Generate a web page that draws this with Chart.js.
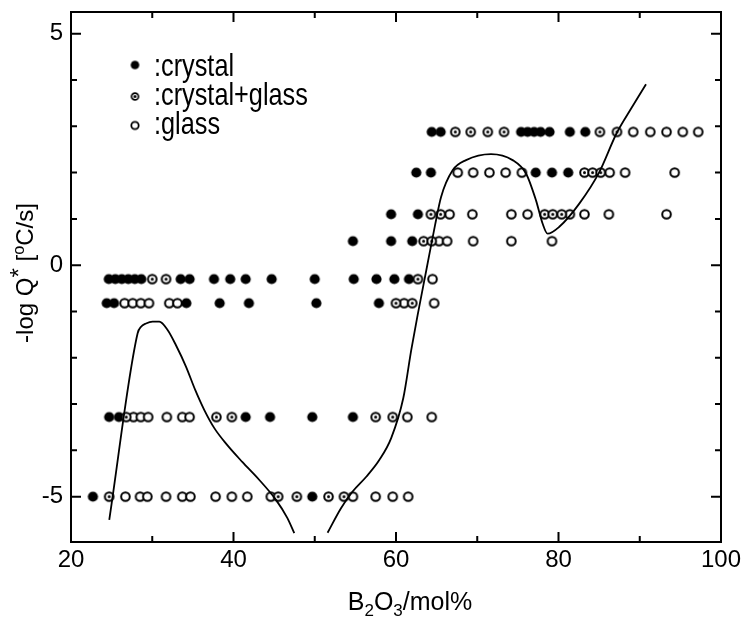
<!DOCTYPE html>
<html>
<head>
<meta charset="utf-8">
<title>-log Q* vs B2O3 mol%</title>
<script src="https://cdn.jsdelivr.net/npm/chart.js@4.4.1/dist/chart.umd.min.js"></script>
<style>
     html, body { margin: 0; padding: 0; background: #fff; }
     #wrap { width: 747px; height: 618px; }
</style>
</head>
<body>
<div id="wrap"><canvas id="chart" width="747" height="618"></canvas></div>
<script>
// axis ticks
const xTicks = [20, 40, 60, 80, 100];
const xMinorTicks = [30, 50, 70, 90];
const yTicks = [-5, 0, 5];
const yMinorTicks = [-4, -3, -2, -1, 1, 2, 3, 4];

const seriesLabels = [":crystal", ":crystal+glass", ":glass"];

// cooling-rate levels (-log Q*), one per row of points
const rowLevels = [2.88, 2.0, 1.1, 0.52, -0.3, -0.82, -3.28, -5.0];

// B2O3 mol% of each sample, listed row by row (same order as rowLevels)
const crystalRows = [
     [64.4, 65.5, 75.4, 76.2, 77.0, 77.8, 78.9, 81.4, 83.3],
     [62.5, 64.3, 77.2, 79.2, 81.2],
     [59.4, 62.7],
     [54.7, 59.4, 62.0],
     [24.65, 25.45, 26.25, 27.05, 27.85, 28.65, 33.5, 34.6, 37.6, 39.6, 41.5, 44.7, 50.0, 54.8, 57.6, 59.8, 61.6],
     [24.4, 25.3, 34.2, 38.3, 41.9, 50.2, 57.9],
     [24.7, 25.9, 41.5, 44.5, 49.7, 54.7],
     [22.7, 49.7],
];
const mixedRows = [
     [67.3, 69.2, 71.3, 73.3, 85.1, 87.2],
     [83.2, 84.2, 85.2],
     [64.3, 65.5, 78.3, 79.3, 80.4],
     [63.4, 64.4],
     [30.0, 31.7, 62.7],
     [60.0, 62.0],
     [26.8, 37.9, 39.8, 57.5, 59.6],
     [24.7, 45.5, 47.8, 51.7, 53.6],
];
const glassRows = [
     [89.2, 91.3, 93.3, 95.3, 97.2],
     [67.6, 69.5, 71.5, 73.5, 75.5, 86.3, 88.2, 94.3],
     [66.6, 69.4, 74.2, 76.2, 81.4, 83.2, 86.2, 93.3],
     [65.3, 66.3, 69.5, 74.2, 79.2],
     [64.5],
     [26.6, 27.6, 28.6, 29.6, 32.1, 33.1, 61.0, 64.7],
     [27.7, 28.6, 29.5, 31.8, 33.7, 34.6, 61.4, 64.4],
     [26.7, 28.5, 29.4, 31.7, 33.7, 34.7, 37.8, 39.8, 41.7, 44.6, 54.7, 57.5, 59.6, 61.5],
];

// boundary curves
const leftCurveX = [24.71, 28.2, 28.62, 29.23, 30.04, 30.87, 31.89, 32.92, 34.15, 35.3, 36.41, 37.64, 39.11, 41.08, 43.18, 45.23, 46.62, 47.48];
const leftCurveY = [-5.5, -1.47, -1.33, -1.26, -1.22, -1.22, -1.4, -1.73, -2.19, -2.7, -3.13, -3.52, -3.86, -4.25, -4.64, -5.07, -5.46, -5.79];
const rightCurveX = [51.58, 53.23, 54.66, 56.34, 57.94, 59.42, 60.9, 61.88, 62.66, 63.73, 64.8, 65.54, 66.97, 68.62, 71.69, 74.35, 76.0, 77.23, 78.04, 78.66, 80.1, 82.56, 85.02, 87.15, 88.96, 90.77];
const rightCurveY = [-5.78, -5.25, -4.89, -4.57, -4.21, -3.73, -2.87, -1.83, -1.08, -0.11, 0.86, 1.47, 2.05, 2.27, 2.4, 2.27, 1.98, 1.4, 0.9, 0.68, 0.83, 1.33, 2.01, 2.85, 3.39, 3.91];

const FONT = "'Liberation Sans', Arial, Helvetica, sans-serif";

const toPoints = (rows) => {
     const pts = [];
     rows.forEach((xs, i) => xs.forEach((x) => pts.push({ x: x, y: rowLevels[i] })));
     return pts;
};
const toLine = (xs, ys) => xs.map((x, i) => ({ x: x, y: ys[i] }));

// marker images: filled, ring with dot, open ring
const makeMarker = (kind, r, lw) => {
     const c = document.createElement("canvas");
     const s = Math.ceil(r * 2 + 4);
     c.width = s;
     c.height = s;
     const g = c.getContext("2d");
     g.beginPath();
     if (kind === "crystal") {
          g.arc(s / 2, s / 2, r, 0, Math.PI * 2);
          g.fillStyle = "#000";
          g.fill();
          return c;
     }
     g.arc(s / 2, s / 2, r - lw / 2, 0, Math.PI * 2);
     g.fillStyle = "#fff";
     g.fill();
     g.lineWidth = lw;
     g.strokeStyle = "#000";
     g.stroke();
     if (kind === "mixed") {
          g.beginPath();
          g.arc(s / 2, s / 2, 1.5, 0, Math.PI * 2);
          g.fillStyle = "#000";
          g.fill();
     }
     return c;
};
const markers = {
     crystal: makeMarker("crystal", 5.1, 0),
     mixed: makeMarker("mixed", 5.3, 2),
     glass: makeMarker("glass", 5.3, 2),
};
const legendMarkers = [makeMarker("crystal", 4.3, 0), makeMarker("mixed", 4.3, 1.7), makeMarker("glass", 4.6, 1.8)];

const framePlugin = {
     id: "frame",
     afterDraw(chart) {
          const { ctx, chartArea: a, scales } = chart;
          const sx = scales.x;
          const sy = scales.y;
          ctx.save();
          ctx.strokeStyle = "#000";
          ctx.lineWidth = 2;
          ctx.strokeRect(a.left, a.top, a.right - a.left, a.bottom - a.top);
          ctx.beginPath();
          const xTick = (v, len) => {
               const p = sx.getPixelForValue(v);
               ctx.moveTo(p, a.bottom);
               ctx.lineTo(p, a.bottom - len);
               ctx.moveTo(p, a.top);
               ctx.lineTo(p, a.top + len);
          };
          const yTick = (v, len) => {
               const p = sy.getPixelForValue(v);
               ctx.moveTo(a.left, p);
               ctx.lineTo(a.left + len, p);
               ctx.moveTo(a.right, p);
               ctx.lineTo(a.right - len, p);
          };
          xTicks.forEach((v) => xTick(v, 10));
          xMinorTicks.forEach((v) => xTick(v, 6));
          yTicks.forEach((v) => yTick(v, 10));
          yMinorTicks.forEach((v) => yTick(v, 6));
          ctx.stroke();
          ctx.restore();
     },
};

// draws a run of text pieces, some raised or lowered, centred on 0
const drawPieces = (ctx, pieces, size) => {
     let total = 0;
     pieces.forEach((p) => {
          ctx.font = (p.small ? size * 0.68 : size) + "px " + FONT;
          p.w = ctx.measureText(p.t).width;
          total += p.w;
     });
     let x = -total / 2;
     pieces.forEach((p) => {
          ctx.font = (p.small ? size * 0.68 : size) + "px " + FONT;
          ctx.fillText(p.t, x, p.dy || 0);
          x += p.w;
     });
};

const titlePlugin = {
     id: "titles",
     afterDraw(chart) {
          const { ctx } = chart;
          ctx.save();
          ctx.fillStyle = "#000";
          ctx.textAlign = "left";
          ctx.textBaseline = "alphabetic";

          ctx.save();
          ctx.translate(410, 610);
          drawPieces(ctx, [
               { t: "B" },
               { t: "2", small: true, dy: 6 },
               { t: "O" },
               { t: "3", small: true, dy: 6 },
               { t: "/mol%" },
          ], 25);
          ctx.restore();

          ctx.save();
          ctx.translate(33, 273);
          ctx.rotate(-Math.PI / 2);
          drawPieces(ctx, [
               { t: "-log Q" },
               { t: "*", dy: -6 },
               { t: " [" },
               { t: "o", small: true, dy: -9 },
               { t: "C/s]" },
          ], 24);
          ctx.restore();

          // legend, top left inside the frame
          const rowsY = [75.5, 105, 134];
          const markY = [65, 96.5, 125.5];
          seriesLabels.forEach((label, i) => {
               const m = legendMarkers[i];
               ctx.drawImage(m, 135 - m.width / 2, markY[i] - m.height / 2);
               ctx.save();
               ctx.translate(154, rowsY[i]);
               ctx.scale(0.79, 1);
               ctx.font = "32px " + FONT;
               ctx.fillText(label, 0, 0);
               ctx.restore();
          });
          ctx.restore();
     },
};

const pointSet = (label, rows, style) => ({
     label: label,
     data: toPoints(rows),
     pointStyle: style,
     pointRadius: 5,
     showLine: false,
});
const curveSet = (xs, ys) => ({
     data: toLine(xs, ys),
     showLine: true,
     borderColor: "#000",
     borderWidth: 1.8,
     pointRadius: 0,
     fill: false,
     cubicInterpolationMode: "monotone",
});

const ctx = document.getElementById("chart").getContext("2d");
new Chart(ctx, {
     type: "scatter",
     data: {
          datasets: [
               curveSet(leftCurveX, leftCurveY),
               curveSet(rightCurveX, rightCurveY),
               pointSet(seriesLabels[1], mixedRows, markers.mixed),
               pointSet(seriesLabels[2], glassRows, markers.glass),
               pointSet(seriesLabels[0], crystalRows, markers.crystal),
          ],
     },
     options: {
          responsive: false,
          animation: false,
          events: [],
          layout: {
               padding: { left: 0, top: 12, right: 26, bottom: 0 },
          },
          plugins: {
               legend: { display: false },
               tooltip: { enabled: false },
          },
          scales: {
               x: {
                    type: "linear",
                    min: 20,
                    max: 100,
                    grid: { display: false, drawTicks: false },
                    border: { display: false },
                    afterBuildTicks: (axis) => {
                         axis.ticks = xTicks.map((v) => ({ value: v }));
                    },
                    afterFit: (axis) => {
                         axis.height = 76;
                         axis.paddingLeft = 0;
                         axis.paddingRight = 0;
                    },
                    ticks: {
                         color: "#000",
                         padding: 4,
                         maxRotation: 0,
                         font: { family: FONT, size: 24 },
                    },
               },
               y: {
                    type: "linear",
                    min: -5.98,
                    max: 5.47,
                    grid: { display: false, drawTicks: false },
                    border: { display: false },
                    afterBuildTicks: (axis) => {
                         axis.ticks = yTicks.map((v) => ({ value: v }));
                    },
                    afterFit: (axis) => {
                         axis.width = 71;
                         axis.paddingTop = 0;
                         axis.paddingBottom = 0;
                    },
                    ticks: {
                         color: "#000",
                         padding: 8,
                         font: { family: FONT, size: 24 },
                         callback: (v) => String(v),
                    },
               },
          },
     },
     plugins: [framePlugin, titlePlugin],
});
</script>
</body>
</html>
